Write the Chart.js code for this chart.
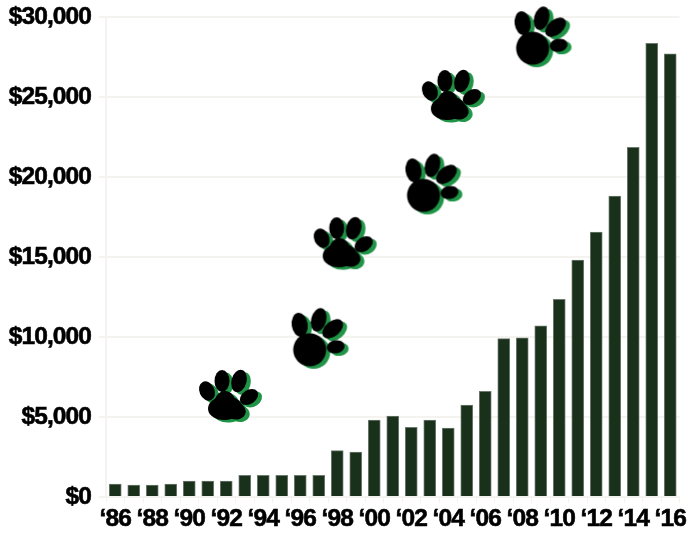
<!DOCTYPE html>
<html>
<head>
<meta charset="utf-8">
<title>Chart</title>
<script src="https://cdn.jsdelivr.net/npm/chart.js@4"></script>
<style>
    html, body { margin: 0; padding: 0; background: #fff; }
    canvas { display: block; }
</style>
</head>
<body>
<canvas id="chart" width="699" height="533"></canvas>
<script>
// -------- DATA --------
const years = ['86','87','88','89','90','91','92','93','94','95','96','97','98','99','00','01','02','03','04','05','06','07','08','09','10','11','12','13','14','15','16'];
const amounts = [800, 750, 750, 800, 1000, 1000, 1000, 1350, 1350, 1350, 1350, 1350, 2900, 2800, 4800, 5050, 4350, 4800, 4300, 5750, 6600, 9900, 9950, 10700, 12350, 14800, 16550, 18800, 21850, 28350, 27700];
const dollarTicks = [0, 5000, 10000, 15000, 20000, 25000, 30000];

// decorative paw prints, placed on the chart's own scales
const pawYears = [1992.2, 1997.05, 1998.4, 2003.2, 2004.25, 2009.1];
const pawDollars = [6250, 9950, 15800, 19600, 25000, 28800];
// -------- END DATA --------

// -------- PAW ICONS --------
// each part: dx, dy, rx, ry, rotation (deg)
const pawUpright = [
    [-5, 11, 17, 12, -5],
    [-5, 8, 11, 14, 0],
    [4, 13, 12, 9, 20],
    [-23, -6, 7.5, 10, -25],
    [-8, -16, 7.5, 11, 0],
    [9, -16, 7.5, 11.5, 15],
    [19, 0, 10, 7, -35]
];
const pawTilted = [
    [-10, 12, 16.5, 16.5, 0],
    [-20, -13, 8, 12, -8],
    [-1, -18, 7.5, 12, 15],
    [13, -9, 7.5, 12, 50],
    [16, 9, 9, 6.5, -10]
];

function makePaw(parts) {
    const size = 90;
    const icon = document.createElement('canvas');
    icon.width = size;
    icon.height = size;
    const ctx = icon.getContext('2d');
    ctx.filter = 'blur(0.7px)';
    const paint = (color, ox, oy) => {
        ctx.fillStyle = color;
        parts.forEach(([dx, dy, rx, ry, rot]) => {
            ctx.beginPath();
            ctx.ellipse(size / 2 + dx + ox, size / 2 + dy + oy, rx, ry, rot * Math.PI / 180, 0, Math.PI * 2);
            ctx.fill();
        });
    };
    paint('#1f9447', 4, 2.5);
    paint('#000000', 0, 0);
    return icon;
}

const pawIcons = [makePaw(pawUpright), makePaw(pawTilted)];
// -------- END PAW ICONS --------

// -------- CHART --------
const tickFont = { family: '"Liberation Sans", sans-serif', size: 24.5, weight: 'bold' };
const faintLine = '#f5f3f0';

// no condensed face is installed, so tighten the bold one
const tightText = {
    id: 'tightText',
    beforeDraw: chart => { chart.ctx.letterSpacing = '-0.9px'; }
};

new Chart(document.getElementById('chart').getContext('2d'), {
    plugins: [tightText],
    data: {
        labels: years,
        datasets: [
            {
                type: 'scatter',
                xAxisID: 'pawX',
                data: pawYears.map((year, i) => ({ x: year, y: pawDollars[i] })),
                // order of the picture: upright, tilted, upright...
                pointStyle: ctx => pawIcons[ctx.dataIndex % 2 === 0 ? 0 : 1],
                clip: false,
                order: 0
            },
            {
                type: 'bar',
                data: amounts,
                backgroundColor: '#19311a',
                borderColor: '#6d7a6d',
                borderWidth: { left: 1, right: 1, top: 1, bottom: 0 },
                barThickness: 12,
                grouped: false,
                order: 1
            }
        ]
    },
    options: {
        responsive: false,
        animation: false,
        layout: { autoPadding: false, padding: { top: 17, right: 19.5, left: 0, bottom: 0 } },
        plugins: { legend: { display: false }, tooltip: { enabled: false } },
        scales: {
            x: {
                offset: true,
                grid: { color: faintLine, drawOnChartArea: false, tickColor: faintLine, tickLength: 6 },
                border: { color: faintLine },
                afterFit: scale => { scale.height = 36; },
                ticks: {
                    color: '#000',
                    font: tickFont,
                    padding: 2,
                    autoSkip: false,
                    maxRotation: 0,
                    textStrokeColor: '#000',
                    textStrokeWidth: 0.6,
                    callback: (value, i) => i % 2 === 0 ? '\u2018' + years[i] : ''
                }
            },
            pawX: { type: 'linear', display: false, min: 1985.5, max: 2016.5 },
            y: {
                min: 0,
                max: 30000,
                afterFit: scale => {
                    scale.width = 106;
                    scale.paddingTop = 0;
                    scale.paddingBottom = 0;
                },
                afterBuildTicks: scale => { scale.ticks = dollarTicks.map(value => ({ value })); },
                grid: { color: faintLine, tickColor: faintLine, tickLength: 7, lineWidth: 2 },
                border: { color: faintLine, width: 2 },
                ticks: {
                    color: '#000',
                    font: tickFont,
                    padding: 8,
                    textStrokeColor: '#000',
                    textStrokeWidth: 0.6,
                    callback: value => '$' + value.toLocaleString('en-US')
                }
            }
        }
    }
});
// -------- END CHART --------
</script>
</body>
</html>
